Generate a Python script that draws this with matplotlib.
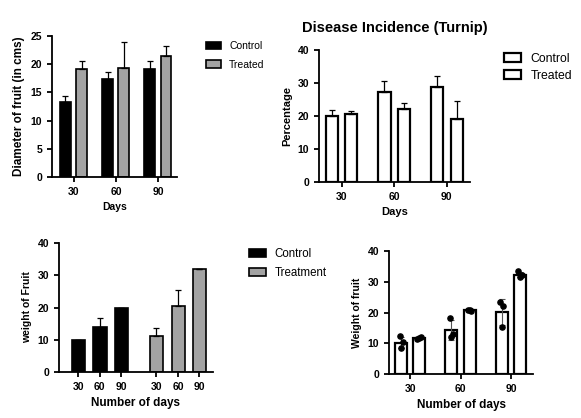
import numpy as np
import matplotlib
matplotlib.use("Agg")
import matplotlib.pyplot as plt

plt.rcParams['font.family'] = ['Liberation Sans', 'DejaVu Sans']

days = ['30', '60', '90']

# panel 1: diameter of fruit
diam_ctrl = [13.3, 17.4, 19.1]
diam_ctrl_err = [1.0, 1.3, 1.4]
diam_trt = [19.1, 19.4, 21.5]
diam_trt_err = [1.4, 4.5, 1.8]

# panel 2: disease incidence
dis_ctrl = [20.0, 27.2, 28.8]
dis_ctrl_err = [1.8, 3.3, 3.2]
dis_trt = [20.5, 22.0, 19.0]
dis_trt_err = [1.0, 2.0, 5.4]

# panel 3: weight of fruit, grouped by treatment
wt_ctrl = [10.0, 14.0, 20.0]
wt_ctrl_err = [0.0, 2.7, 0.0]
wt_trt = [11.3, 20.5, 32.0]
wt_trt_err = [2.2, 4.8, 0.0]

# panel 4: weight of fruit with replicates
w4_ctrl = [10.2, 14.3, 20.3]
w4_ctrl_err = [1.8, 3.3, 4.3]
w4_trt = [11.8, 20.8, 32.4]
w4_trt_err = [0.4, 0.3, 0.8]
w4_ctrl_pts = [[12.4, 10.5, 8.4], [18.2, 13.0, 12.1], [23.5, 22.2, 15.2]]
w4_trt_pts = [[11.5, 12.0, 11.8], [21.0, 20.6, 20.9], [33.5, 32.2, 31.6]]

GREY = '#a3a3a3'


def style(ax):
    for s in ['top', 'right']:
        ax.spines[s].set_visible(False)
    for s in ['left', 'bottom']:
        ax.spines[s].set_linewidth(1.3)
    ax.tick_params(width=1.3, length=3.5, labelsize=7.5)
    for t in ax.get_xticklabels() + ax.get_yticklabels():
        t.set_fontweight('bold')


fig = plt.figure(figsize=(5.81, 4.18), dpi=100)
x = np.arange(3)
ek = dict(ecolor='black', elinewidth=0.9, capsize=2.5, capthick=0.9)

# ---- panel 1
ax1 = fig.add_axes([0.0895, 0.5766, 0.215, 0.337])
ax1.bar(x - 0.2, diam_ctrl, 0.26, color='black', edgecolor='black', lw=1.2,
        yerr=[np.zeros(3), diam_ctrl_err], error_kw=ek, label='Control')
ax1.bar(x + 0.19, diam_trt, 0.26, color=GREY, edgecolor='black', lw=1.2,
        yerr=[np.zeros(3), diam_trt_err], error_kw=ek, label='Treated')
ax1.set_xlim(-0.52, 2.45); ax1.set_ylim(0, 25)
ax1.set_yticks([0, 5, 10, 15, 20, 25])
ax1.set_xticks(x, days)
ax1.set_xlabel('Days', fontsize=7.5, fontweight='bold')
ax1.set_ylabel('Diameter of fruit (in cms)', fontsize=8.5, fontweight='bold')
style(ax1)
ax1.legend(loc='upper left', bbox_to_anchor=(1.16, 1.03), frameon=False, fontsize=7.5,
           handlelength=1.4, handleheight=0.7, labelspacing=0.8)

# ---- panel 2
ax2 = fig.add_axes([0.549, 0.5646, 0.26, 0.316])
ax2.bar(x - 0.185, dis_ctrl, 0.23, color='white', edgecolor='black', lw=1.6,
        yerr=[np.zeros(3), dis_ctrl_err], error_kw=ek, label='Control')
ax2.bar(x + 0.185, dis_trt, 0.23, color='white', edgecolor='black', lw=1.6,
        yerr=[np.zeros(3), dis_trt_err], error_kw=ek, label='Treated')
ax2.set_xlim(-0.43, 2.44); ax2.set_ylim(0, 40)
ax2.set_yticks([0, 10, 20, 30, 40])
ax2.set_xticks(x, days)
ax2.set_xlabel('Days', fontsize=8, fontweight='bold')
ax2.set_ylabel('Percentage', fontsize=8, fontweight='bold')
ax2.set_title('Disease Incidence (Turnip)', fontsize=10.5, fontweight='bold', pad=13)
style(ax2)
ax2.legend(loc='upper left', bbox_to_anchor=(1.15, 1.06), frameon=False, fontsize=8.8,
           handlelength=1.4, handleheight=0.7, labelspacing=0.4)

# ---- panel 3
ax3 = fig.add_axes([0.1015, 0.110, 0.265, 0.3086])
xc = np.array([0, 1, 2]); xt = np.array([3.63, 4.65, 5.63])
ax3.bar(xc, wt_ctrl, 0.63, color='black', edgecolor='black', lw=1.2,
        yerr=[np.zeros(3), wt_ctrl_err], error_kw=ek, label='Control')
ax3.bar(xt, wt_trt, 0.63, color=GREY, edgecolor='black', lw=1.2,
        yerr=[np.zeros(3), wt_trt_err], error_kw=ek, label='Treatment')
ax3.set_xlim(-0.9, 6.26); ax3.set_ylim(0, 40)
ax3.set_yticks([0, 10, 20, 30, 40])
ax3.set_xticks(np.concatenate([xc, xt]), days + days)
ax3.set_xlabel('Number of days', fontsize=8.5, fontweight='bold')
ax3.set_ylabel('weight of Fruit', fontsize=7.5, fontweight='bold')
style(ax3)
ax3.legend(loc='upper left', bbox_to_anchor=(1.17, 1.04), frameon=False, fontsize=8.3,
           handlelength=1.4, handleheight=0.7, labelspacing=0.55)

# ---- panel 4
ax4 = fig.add_axes([0.6695, 0.105, 0.248, 0.294])
ek4 = dict(ecolor='#555555', elinewidth=0.8, capsize=2.5, capthick=0.8)
ax4.bar(x - 0.18, w4_ctrl, 0.24, color='white', edgecolor='black', lw=1.6,
        yerr=w4_ctrl_err, error_kw=ek4)
ax4.bar(x + 0.18, w4_trt, 0.24, color='white', edgecolor='black', lw=1.6,
        yerr=w4_trt_err, error_kw=ek4)
jit = np.array([-0.03, 0.03, 0.0])
for i in range(3):
    ax4.scatter(i - 0.18 + jit, w4_ctrl_pts[i], s=14, color='black', zorder=3)
    ax4.scatter(i + 0.18 + jit * 1.2, w4_trt_pts[i], s=14, color='black', zorder=3)
ax4.set_xlim(-0.42, 2.44); ax4.set_ylim(0, 40)
ax4.set_yticks([0, 10, 20, 30, 40])
ax4.set_xticks(x, days)
ax4.set_xlabel('Number of days', fontsize=8.5, fontweight='bold')
ax4.set_ylabel('Weight of fruit', fontsize=7.5, fontweight='bold')
style(ax4)

fig.savefig('out.png', dpi=100)
